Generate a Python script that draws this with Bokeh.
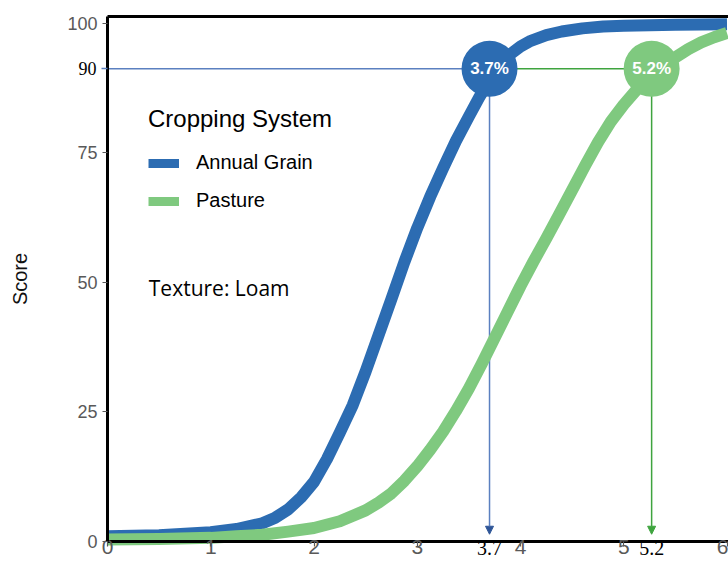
from bokeh.plotting import figure
from bokeh.models import (Range1d, FixedTicker, LinearAxis, Legend, LegendItem,
                          Label, Arrow, NormalHead, ColumnDataSource)
from bokeh.core.properties import value
from bokeh.embed import file_html
from bokeh.resources import INLINE

# ---------------- data ----------------
blue_x = [0.0, 0.5, 1.0, 1.25, 1.5, 1.625, 1.75, 1.875, 2.0, 2.125, 2.25, 2.375, 2.5,
          2.625, 2.75, 2.875, 3.0, 3.125, 3.25, 3.375, 3.5, 3.6, 3.7, 3.8, 3.9, 4.0,
          4.1, 4.25, 4.4, 4.6, 4.8, 5.0, 5.5, 6.0]
blue_y = [1.0, 1.2, 1.8, 2.4, 3.5, 4.6, 6.2, 8.5, 11.5, 15.9, 21.0, 26.3, 32.8,
          39.8, 46.8, 53.9, 60.5, 66.5, 72.0, 77.3, 82.0, 85.7, 89.0, 91.8, 94.0, 95.5,
          96.6, 97.7, 98.4, 99.0, 99.35, 99.5, 99.7, 99.8]

green_x = [0.0, 0.5, 1.0, 1.25, 1.5, 1.75, 2.0, 2.25, 2.5, 2.625, 2.75, 2.875, 3.0,
           3.125, 3.25, 3.375, 3.5, 3.625, 3.75, 3.875, 4.0, 4.125, 4.25, 4.375, 4.5,
           4.625, 4.75, 4.875, 5.0, 5.135, 5.27, 5.4, 5.5, 5.625, 5.75, 5.875, 6.0]
green_y = [0.4, 0.5, 0.7, 1.0, 1.3, 1.9, 2.6, 3.9, 6.0, 7.5, 9.3, 11.7, 14.5,
           17.7, 21.2, 25.2, 29.5, 34.3, 39.3, 44.3, 49.3, 54.0, 58.5, 63.1, 67.8,
           72.5, 77.0, 81.0, 84.3, 87.4, 90.0, 92.0, 93.4, 95.0, 96.3, 97.3, 98.1]

series_names = ["Annual Grain", "Pasture"]
legend_title = "Cropping System"
note_text = "Texture: Loam"

crit_x = [3.70, 5.27]          # where the markers sit
crit_y = [91.2, 91.2]
crit_labels = ["3.7%", "5.2%"]
crit_axis_labels = ["3.7", "5.2"]
level_label = "90"

x_ticks = [0, 1, 2, 3, 4, 5, 6]
y_ticks = [0, 25, 50, 75, 100]

# ---------------- style ----------------
BLUE = "#2C6CB2"
GREEN = "#7FC97F"
BLUE_THIN = "#5B80C0"
BLUE_HEAD = "#2E5597"
GREEN_THIN = "#3FA43F"
GRAY = "#595959"

X0, X1 = 0, 6.0145       # plotted extent
Y0, Y1 = 0, 101.25

p = figure(width=728, height=564, output_backend="svg", toolbar_location=None,
           x_range=Range1d(-1.0363, 6.0145), y_range=Range1d(-4.438, 104.38),
           min_border_left=0, min_border_right=0, min_border_top=0,
           min_border_bottom=0, x_axis_type=None, y_axis_type=None)
p.outline_line_color = None
p.background_fill_color = "white"
p.border_fill_color = "white"
p.xgrid.visible = False
p.ygrid.visible = False


def style_axis(ax, size):
    ax.axis_line_color = "black"
    ax.axis_line_width = 3
    ax.major_tick_line_color = GRAY
    ax.major_tick_line_width = 1.2
    ax.major_tick_out = 5
    ax.major_tick_in = 0
    ax.minor_tick_line_color = None
    ax.major_label_text_font = "Liberation Sans"
    ax.major_label_text_font_size = size
    ax.major_label_text_color = GRAY


xaxis = LinearAxis(ticker=FixedTicker(ticks=x_ticks), fixed_location=0, bounds=(X0, X1))
style_axis(xaxis, "21px")
xaxis.major_label_standoff = -6
p.add_layout(xaxis, "below")

yaxis = LinearAxis(ticker=FixedTicker(ticks=y_ticks), fixed_location=0, bounds=(Y0, Y1),
                   axis_label="Score")
style_axis(yaxis, "18px")
yaxis.major_label_standoff = 5
yaxis.axis_label_text_font = "Liberation Sans"
yaxis.axis_label_text_font_size = "20px"
yaxis.axis_label_text_font_style = "normal"
yaxis.axis_label_text_color = "#111111"
yaxis.axis_label_standoff = 33
p.add_layout(yaxis, "left")

topaxis = LinearAxis(ticker=FixedTicker(ticks=[]), fixed_location=Y1, bounds=(X0, X1))
topaxis.axis_line_color = "black"
topaxis.axis_line_width = 3
topaxis.major_tick_line_color = None
topaxis.minor_tick_line_color = None
topaxis.major_label_text_font_size = "0px"
p.add_layout(topaxis, "above")

# critical-value labels on the axes (serif, black)
xcrit = LinearAxis(ticker=FixedTicker(ticks=crit_x), fixed_location=0,
                   major_label_overrides={crit_x[0]: crit_axis_labels[0],
                                          crit_x[1]: crit_axis_labels[1]})
xcrit.axis_line_color = None
xcrit.major_tick_line_color = None
xcrit.major_tick_out = 0
xcrit.minor_tick_line_color = None
xcrit.major_label_text_font = "Liberation Serif"
xcrit.major_label_text_font_size = "20px"
xcrit.major_label_text_color = "black"
xcrit.major_label_standoff = 0
p.add_layout(xcrit, "below")

ycrit = LinearAxis(ticker=FixedTicker(ticks=[crit_y[0]]), fixed_location=0,
                   major_label_overrides={crit_y[0]: level_label})
ycrit.axis_line_color = None
ycrit.major_tick_line_color = BLUE_THIN
ycrit.major_tick_line_width = 1.5
ycrit.major_tick_out = 6
ycrit.major_tick_in = 0
ycrit.minor_tick_line_color = None
ycrit.major_label_text_font = "Liberation Serif"
ycrit.major_label_text_font_size = "18px"
ycrit.major_label_text_color = "black"
ycrit.major_label_standoff = 5
p.add_layout(ycrit, "left")

# reference lines (under glyphs)
p.add_layout(Arrow(end=None, x_start=0, y_start=crit_y[0], x_end=crit_x[0], y_end=crit_y[0],
                   line_color=BLUE_THIN, line_width=1.5, level="underlay"))
p.add_layout(Arrow(end=None, x_start=crit_x[0], y_start=crit_y[1], x_end=crit_x[1], y_end=crit_y[1],
                   line_color=GREEN_THIN, line_width=1.5, level="underlay"))
p.add_layout(Arrow(end=NormalHead(size=8, fill_color=BLUE_HEAD, line_color=BLUE_HEAD),
                   x_start=crit_x[0], y_start=crit_y[0], x_end=crit_x[0], y_end=1.4,
                   line_color=BLUE_THIN, line_width=1.5, level="underlay"))
p.add_layout(Arrow(end=NormalHead(size=8, fill_color=GREEN_THIN, line_color=GREEN_THIN),
                   x_start=crit_x[1], y_start=crit_y[1], x_end=crit_x[1], y_end=1.4,
                   line_color=GREEN_THIN, line_width=1.5, level="underlay"))

# curves
p.line(blue_x, blue_y, line_color=BLUE, line_width=12, line_join="round")
p.line(green_x, green_y, line_color=GREEN, line_width=12, line_join="round")

# markers
src = ColumnDataSource(dict(x=crit_x, y=crit_y, label=crit_labels, color=[BLUE, GREEN]))
p.scatter("x", "y", source=src, size=56, fill_color="color", line_color=None)
p.text("x", "y", text="label", source=src, text_align="center", text_baseline="middle",
       text_color="white", text_font=value("Liberation Sans"), text_font_style="bold",
       text_font_size="17px")

# legend (swatch renderers kept out of view)
lb = p.line([-5, -4], [-50, -50], line_color=BLUE, line_width=9)
lg = p.line([-5, -4], [-50, -50], line_color=GREEN, line_width=9)
legend = Legend(items=[LegendItem(label=series_names[0], renderers=[lb]),
                       LegendItem(label=series_names[1], renderers=[lg])],
                title=legend_title, location=(148, 352))
legend.title_text_font = "Liberation Sans"
legend.title_text_font_size = "24px"
legend.title_text_font_style = "normal"
legend.title_text_color = "black"
legend.title_standoff = 18
legend.label_text_font = "Liberation Sans"
legend.label_text_font_size = "20px"
legend.label_text_color = "black"
legend.glyph_width = 31
legend.glyph_height = 20
legend.label_standoff = 17
legend.spacing = 15
legend.padding = 0
legend.margin = 0
legend.border_line_color = None
legend.background_fill_alpha = 0
p.add_layout(legend)

# note
p.add_layout(Label(x=0.40, y=49.0, text=note_text, text_font="Open Sans",
                   text_font_size="21px", text_color="black", text_baseline="middle"))

open("out.html", "w").write(file_html(p, INLINE))
